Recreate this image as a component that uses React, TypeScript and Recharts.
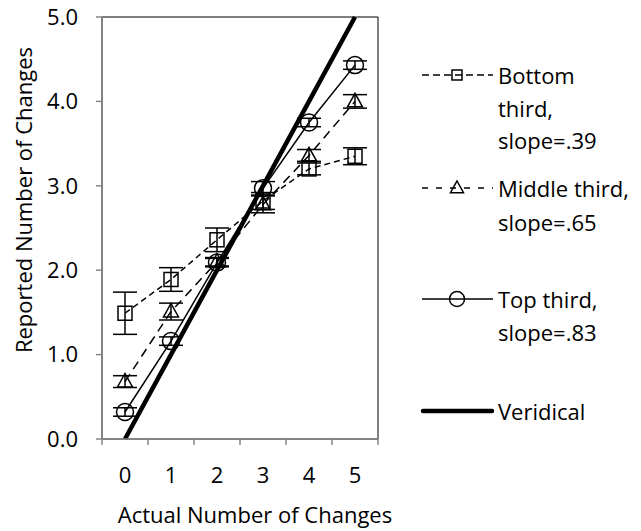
import React from 'react';
import { LineChart, Line, XAxis, YAxis, ErrorBar, Legend, ReferenceArea, Label } from 'recharts';

// actual number of changes (x categories)
const actual = [0, 1, 2, 3, 4, 5];

// reported means and error bars
const bottomThird = [1.49, 1.89, 2.36, 2.82, 3.2, 3.35];
const bottomErr = [0.25, 0.14, 0.14, 0.1, 0.07, 0.1];
const middleThird = [0.68, 1.51, 2.1, 2.78, 3.36, 4.0];
const middleErr = [0.07, 0.1, 0.05, 0.1, 0.07, 0.08];
const topThird = [0.32, 1.16, 2.09, 2.97, 3.75, 4.43];
const topErr = [0.05, 0.05, 0.05, 0.08, 0.05, 0.05];
const veridical = [0, 1, 2, 3, 4, 5];

const yTicks = [0, 1, 2, 3, 4, 5];
const xBounds = [-0.5, 0.5, 1.5, 2.5, 3.5, 4.5, 5.5];

const legendLabels = [
  ['Bottom', 'third,', 'slope=.39'],
  ['Middle third,', 'slope=.65'],
  ['Top third,', 'slope=.83'],
  ['Veridical'],
];

const data = actual.map((x, i) => ({
  x,
  bottom: bottomThird[i],
  bottomErr: bottomErr[i],
  middle: middleThird[i],
  middleErr: middleErr[i],
  top: topThird[i],
  topErr: topErr[i],
  veridical: veridical[i],
}));

const FONT = '"Open Sans", sans-serif';
const FS = 22;
const AXIS_GREY = '#868686';

const Square = ({ cx, cy, size = 14 }: any) => (
  <rect x={cx - size / 2} y={cy - size / 2} width={size} height={size} fill="none" stroke="#000" strokeWidth={1.5} />
);

const Triangle = ({ cx, cy, size = 15 }: any) => {
  const h = size * 0.9;
  return (
    <polygon
      points={`${cx},${cy - h * 0.6} ${cx - size / 2},${cy + h * 0.4} ${cx + size / 2},${cy + h * 0.4}`}
      fill="none"
      stroke="#000"
      strokeWidth={1.5}
    />
  );
};

const Circle = ({ cx, cy, r = 8.5 }: any) => (
  <circle cx={cx} cy={cy} r={r} fill="none" stroke="#000" strokeWidth={1.5} />
);

const squareDot = (p: any) => <Square key={`s${p.index}`} cx={p.cx} cy={p.cy} />;
const triangleDot = (p: any) => <Triangle key={`t${p.index}`} cx={p.cx} cy={p.cy} />;
const circleDot = (p: any) => <Circle key={`c${p.index}`} cx={p.cx} cy={p.cy} />;

// legend rows: centre of each text line (px from chart top)
const legendTops = [
  [75, 108, 140],
  [188, 222],
  [299, 332],
  [411],
];

const LegendIcon = ({ idx }: { idx: number }) => {
  const cy = 10;
  const mid = 37;
  let line: React.ReactNode;
  let marker: React.ReactNode = null;
  if (idx === 0) {
    line = <line x1={2} y1={cy} x2={73} y2={cy} stroke="#000" strokeWidth={1.5} strokeDasharray="7 4" />;
    marker = <Square cx={mid} cy={cy} size={10} />;
  } else if (idx === 1) {
    line = <line x1={2} y1={cy} x2={73} y2={cy} stroke="#000" strokeWidth={1.5} strokeDasharray="6 8" />;
    marker = <Triangle cx={mid} cy={cy} size={13} />;
  } else if (idx === 2) {
    line = <line x1={2} y1={cy} x2={73} y2={cy} stroke="#000" strokeWidth={1.5} />;
    marker = <Circle cx={mid} cy={cy} r={7.5} />;
  } else {
    line = <line x1={3} y1={cy} x2={72} y2={cy} stroke="#000" strokeWidth={4.5} strokeLinecap="round" />;
  }
  return (
    <svg width={75} height={20} style={{ position: 'absolute', left: 0, top: legendTops[idx][0] - 10 }}>
      {line}
      {marker}
    </svg>
  );
};

const renderLegend = () => (
  <div style={{ position: 'relative', width: 221, height: 520, fontFamily: FONT, fontSize: FS, color: '#000' }}>
    {legendLabels.map((lines, i) => (
      <React.Fragment key={i}>
        <LegendIcon idx={i} />
        {lines.map((t, j) => (
          <div
            key={j}
            style={{ position: 'absolute', left: 78, top: legendTops[i][j] - 15, lineHeight: '30px', whiteSpace: 'nowrap' }}
          >
            {t}
          </div>
        ))}
      </React.Fragment>
    ))}
  </div>
);

const emptyTick = () => <g />;

// both axis titles, drawn from the y axis label slot
const AxisTitles = () => (
  <g fontSize={FS} fontFamily={FONT} fill="#000">
    <text x={23} y={200} transform="rotate(-90 23 200)" textAnchor="middle" dominantBaseline="central">
      Reported Number of Changes
    </text>
    <text x={255} y={514} textAnchor="middle" dominantBaseline="central">
      Actual Number of Changes
    </text>
  </g>
);

const App: React.FC = () => {
  return (
    <div style={{ position: 'absolute', left: 0, top: 0 }}>
      <LineChart
        width={641}
        height={531}
        data={data}
        margin={{ top: 17, right: 263, bottom: 0, left: 0 }}
        accessibilityLayer={false}
      >
        <ReferenceArea xAxisId="a" y1={0} y2={5} fill="none" stroke="#000" strokeWidth={1} />
        {/* boundary tick marks, sits right under the plot */}
        <XAxis
          xAxisId="a"
          type="number"
          dataKey="x"
          domain={[-0.5, 5.5]}
          ticks={xBounds}
          tick={emptyTick}
          tickSize={6}
          height={1}
          axisLine={{ stroke: AXIS_GREY, strokeWidth: 1.5 }}
          tickLine={{ stroke: AXIS_GREY, strokeWidth: 1.5 }}
        />
        {/* category labels centred in each band */}
        <XAxis
          xAxisId="b"
          type="number"
          dataKey="x"
          domain={[-0.5, 5.5]}
          ticks={actual}
          height={91}
          axisLine={false}
          tickLine={false}
          tickMargin={21}
          tick={{ fontSize: FS, fill: '#000', fontFamily: FONT }}
        />
        <YAxis
          type="number"
          domain={[0, 5]}
          ticks={yTicks}
          width={102}
          tickSize={6}
          tickMargin={18}
          tickFormatter={(v: number) => v.toFixed(1)}
          axisLine={{ stroke: AXIS_GREY, strokeWidth: 1.5 }}
          tickLine={{ stroke: AXIS_GREY, strokeWidth: 1.5 }}
          tick={{ fontSize: FS, fill: '#000', fontFamily: FONT }}
        >
          <Label content={() => <AxisTitles />} />
        </YAxis>
        <Line
          xAxisId="b"
          type="linear"
          dataKey="veridical"
          stroke="#000"
          strokeWidth={4.5}
          dot={false}
          activeDot={false}
          isAnimationActive={false}
        />
        <Line
          xAxisId="a"
          type="linear"
          dataKey="bottom"
          stroke="#000"
          strokeWidth={1.5}
          strokeDasharray="6 4"
          dot={squareDot}
          activeDot={false}
          isAnimationActive={false}
        >
          <ErrorBar dataKey="bottomErr" direction="y" width={12} stroke="#000" strokeWidth={1.5} />
        </Line>
        <Line
          xAxisId="a"
          type="linear"
          dataKey="middle"
          stroke="#000"
          strokeWidth={1.5}
          strokeDasharray="9 6"
          dot={triangleDot}
          activeDot={false}
          isAnimationActive={false}
        >
          <ErrorBar dataKey="middleErr" direction="y" width={12} stroke="#000" strokeWidth={1.5} />
        </Line>
        <Line
          xAxisId="a"
          type="linear"
          dataKey="top"
          stroke="#000"
          strokeWidth={1.5}
          dot={circleDot}
          activeDot={false}
          isAnimationActive={false}
        >
          <ErrorBar dataKey="topErr" direction="y" width={12} stroke="#000" strokeWidth={1.5} />
        </Line>
        <Legend
          layout="vertical"
          align="center"
          verticalAlign="middle"
          content={renderLegend}
          wrapperStyle={{ left: 420, top: 0, width: 221, height: 520 }}
        />
      </LineChart>
    </div>
  );
};

export default App;
